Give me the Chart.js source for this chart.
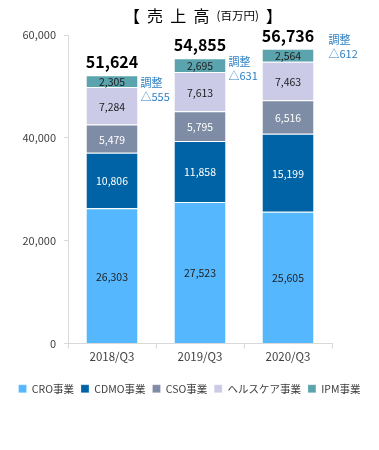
<!DOCTYPE html>
<html>
<head>
<meta charset="utf-8">
<script src="https://cdn.jsdelivr.net/npm/chart.js@4"></script>
<style>
  html, body { margin: 0; padding: 0; background: #fff; }
  #wrap { width: 379px; height: 450px; }
</style>
</head>
<body>
<div id="wrap"><canvas id="salesChart" width="379" height="450"></canvas></div>
<script>
// data (百万円)
const periods = ["2018/Q3", "2019/Q3", "2020/Q3"];
const seriesNames = ["CRO事業", "CDMO事業", "CSO事業", "ヘルスケア事業", "IPM事業"];
const croSales = [26303, 27523, 25605];
const cdmoSales = [10806, 11858, 15199];
const csoSales = [5479, 5795, 6516];
const healthSales = [7284, 7613, 7463];
const ipmSales = [2305, 2695, 2564];
const totals = [51624, 54855, 56736];
const adjustments = [555, 631, 612];
const yTicks = [0, 20000, 40000, 60000];

const colors = ["#55B8FF", "#0063A5", "#7F8CA6", "#CBCBE8", "#5BA3AD"];
const labelColors = ["#1d1d1d", "#ffffff", "#ffffff", "#1d1d1d", "#1d1d1d"];
const FONT = "'Noto Sans CJK JP', 'Noto Sans', sans-serif";

const fmt = v => v.toLocaleString("en-US");

// title + segment labels + totals + 調整 notes
const annotate = {
  id: "annotate",
  afterDatasetsDraw(chart) {
    const ctx = chart.ctx;
    ctx.save();

    // title
    ctx.textBaseline = "middle";
    ctx.fillStyle = "#000";
    const big = "16px " + FONT, small = "11.5px " + FONT;
    const parts = [["【  売  上  高  ", big], ["(百万円)", small], ["  】", big]];
    let w = 0;
    parts.forEach(p => { ctx.font = p[1]; w += ctx.measureText(p[0]).width; });
    let x = 203 - w / 2;
    ctx.textAlign = "left";
    parts.forEach(p => {
      ctx.font = p[1];
      ctx.fillText(p[0], x, 16);
      x += ctx.measureText(p[0]).width;
    });

    // value labels inside segments
    ctx.textAlign = "center";
    ctx.font = "10.5px " + FONT;
    chart.data.datasets.forEach((ds, di) => {
      const meta = chart.getDatasetMeta(di);
      meta.data.forEach((bar, i) => {
        ctx.fillStyle = labelColors[di];
        ctx.fillText(fmt(ds.data[i]), bar.x, (bar.y + bar.base) / 2 + 1);
      });
    });

    // totals and adjustments
    const top = chart.getDatasetMeta(chart.data.datasets.length - 1);
    const adjDy = [8, 4, -9];
    const adjDx = [3, 3, 15];
    top.data.forEach((bar, i) => {
      ctx.fillStyle = "#000";
      ctx.textAlign = "center";
      ctx.font = "bold 16px " + FONT;
      ctx.fillText(fmt(totals[i]), bar.x, bar.y - 13);

      ctx.fillStyle = "#2F80C3";
      ctx.textAlign = "left";
      ctx.font = "11px " + FONT;
      const ax = bar.x + bar.width / 2 + adjDx[i];
      const ay = bar.y + adjDy[i];
      ctx.fillText("調整", ax, ay);
      ctx.fillText("△" + adjustments[i], ax, ay + 14);
    });
    ctx.restore();
  }
};

const seriesValues = [croSales, cdmoSales, csoSales, healthSales, ipmSales];

new Chart(document.getElementById("salesChart"), {
  type: "bar",
  data: {
    labels: periods,
    datasets: seriesNames.map((name, i) => ({
      label: name,
      data: seriesValues[i],
      backgroundColor: colors[i],
      borderColor: "#ffffff",
      borderWidth: { top: 1 },
      borderSkipped: false,
      barPercentage: 0.58,
      categoryPercentage: 1.0
    }))
  },
  options: {
    responsive: false,
    animation: false,
    events: [],
    layout: { padding: { left: 0, right: 0, top: 35, bottom: 46 } },
    scales: {
      x: {
        stacked: true,
        border: { color: "#D9D9D9" },
        grid: { drawOnChartArea: false, tickLength: 5, color: "#D9D9D9", offset: true },
        ticks: { color: "#404040", font: { family: FONT, size: 11.5 }, padding: 1 },
        afterFit(scale) { scale.height = 33; }
      },
      y: {
        stacked: true,
        min: 0,
        max: 60000,
        border: { color: "#D9D9D9" },
        grid: { drawOnChartArea: false, tickLength: 4, color: "#D9D9D9" },
        afterBuildTicks(scale) { scale.ticks = yTicks.map(v => ({ value: v })); },
        ticks: {
          color: "#404040",
          font: { family: FONT, size: 11 },
          padding: 8,
          callback: v => fmt(v)
        },
        afterFit(scale) { scale.width = 68; }
      },
      // empty right-hand axis, only keeps room for the 調整 notes
      yGap: {
        position: "right",
        display: true,
        border: { display: false },
        grid: { display: false },
        ticks: { display: false },
        afterFit(scale) { scale.width = 47; }
      }
    },
    plugins: {
      title: { display: false },
      tooltip: { enabled: false },
      legend: {
        position: "bottom",
        labels: {
          boxWidth: 8,
          boxHeight: 8,
          padding: 7,
          color: "#404040",
          font: { family: FONT, size: 10.5 }
        }
      }
    }
  },
  plugins: [annotate]
});
</script>
</body>
</html>
